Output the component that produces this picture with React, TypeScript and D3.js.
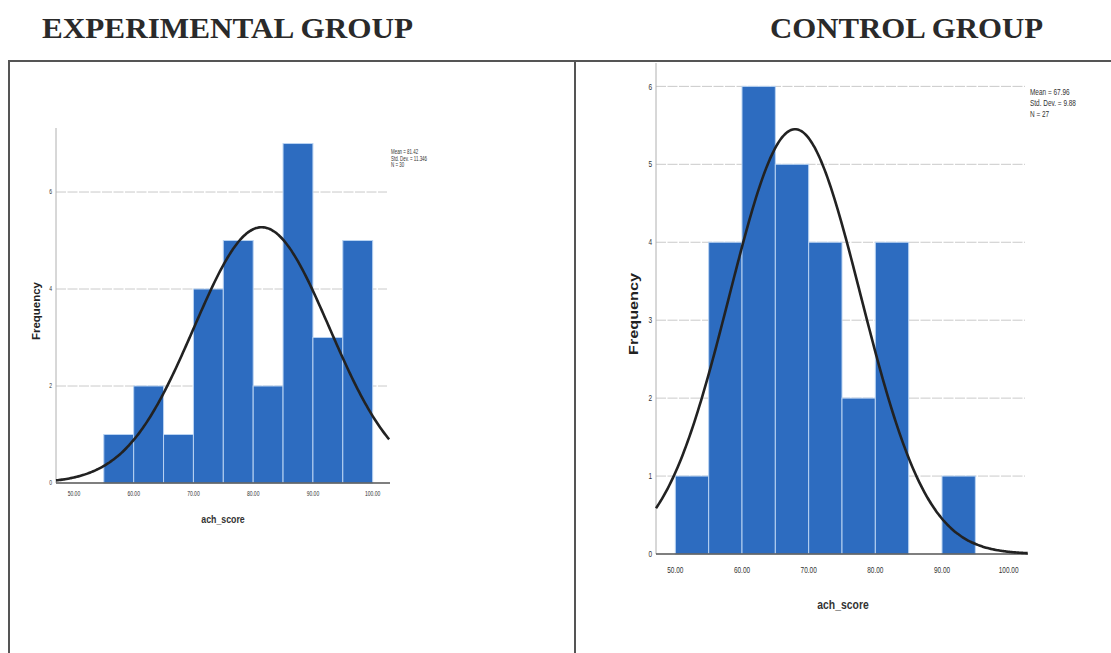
import React from 'react';
import * as d3 from 'd3';

// histogram bins (lower edge of each 5-point bin) and frequencies
const expBinStarts = [55, 60, 65, 70, 75, 80, 85, 90, 95];
const expCounts = [1, 2, 1, 4, 5, 2, 7, 3, 5];
const ctrlBinStarts = [50, 55, 60, 65, 70, 75, 80, 85, 90];
const ctrlCounts = [1, 4, 6, 5, 4, 2, 4, 0, 1];
const binWidth = 5;

const xTickValues = [50, 60, 70, 80, 90, 100];
const expYTicks = [0, 2, 4, 6];
const ctrlYTicks = [0, 1, 2, 3, 4, 5, 6];

const expStats = [81.42, 11.346, 30];
const ctrlStats = [67.96, 9.88, 27];
const expLegend = ['Mean = 81.42', 'Std. Dev. = 11.346', 'N = 30'];
const ctrlLegend = ['Mean = 67.96', 'Std. Dev. = 9.88', 'N = 27'];

const sans = "'Liberation Sans', Arial, sans-serif";

// text squeezed horizontally, like the condensed SPSS labels
const Narrow = ({ x, y, sx = 0.72, anchor = 'start', size, bold = false, children }: any) => (
  <g transform={`translate(${x},${y}) scale(${sx},1)`}>
    <text
      textAnchor={anchor}
      fontSize={size}
      fontWeight={bold ? 'bold' : 'normal'}
      fontFamily={sans}
      fill="#333"
    >
      {children}
    </text>
  </g>
);

type PanelProps = {
  starts: number[];
  counts: number[];
  stats: number[];
  legend: string[];
  yTicks: number[];
  layout: any;
};

const Histogram = ({ starts, counts, stats, legend, yTicks, layout }: PanelProps) => {
  const L = layout;
  const x = d3.scaleLinear().domain(L.xDomain).range([L.left, L.right]);
  const y = d3.scaleLinear().domain([0, L.yMax]).range([L.bottom, L.top]);
  const [mean, sd, n] = stats;

  // fitted normal curve scaled to counts per bin
  const pdf = (v: number) =>
    (n * binWidth) / (sd * Math.sqrt(2 * Math.PI)) * Math.exp(-0.5 * ((v - mean) / sd) ** 2);
  const curvePts = d3.range(L.xDomain[0], L.xDomain[1] + 0.01, 0.25).map((v) => [v, pdf(v)]);
  const line = d3
    .line<number[]>()
    .x((d) => x(d[0]))
    .y((d) => y(d[1]))
    .curve(d3.curveBasis);

  return (
    <g>
      {/* gridlines */}
      {yTicks
        .filter((t) => t > 0)
        .map((t) => (
          <line
            key={'g' + t}
            x1={L.left}
            x2={L.gridRight}
            y1={y(t)}
            y2={y(t)}
            stroke="#bdbdbd"
            strokeWidth={0.8}
            strokeDasharray="10,1.5"
          />
        ))}
      {/* bars */}
      {starts.map((s, i) =>
        counts[i] > 0 ? (
          <rect
            key={'b' + s}
            x={x(s)}
            y={y(counts[i])}
            width={x(s + binWidth) - x(s)}
            height={y(0) - y(counts[i])}
            fill="#2d6cc0"
            stroke="#b9d3f2"
            strokeWidth={1}
          />
        ) : null
      )}
      {/* axes */}
      <line x1={L.left} x2={L.left} y1={L.top} y2={L.bottom} stroke="#b0b0b0" strokeWidth={1} />
      <line x1={L.left} x2={L.right} y1={L.bottom} y2={L.bottom} stroke="#555" strokeWidth={1.5} />
      {yTicks.map((t) => (
        <Narrow key={'y' + t} x={L.left - 4} y={y(t) + L.tickSize * 0.35} anchor="end" size={L.tickSize}>
          {t}
        </Narrow>
      ))}
      {xTickValues.map((t) => (
        <Narrow key={'x' + t} x={x(t)} y={L.bottom + L.xTickOffset} anchor="middle" size={L.tickSize}>
          {t.toFixed(2)}
        </Narrow>
      ))}
      {/* normal curve */}
      <path d={line(curvePts) || ''} fill="none" stroke="#222" strokeWidth={2.6} />
      {/* axis titles */}
      <Narrow x={L.xLabelX} y={L.xLabelY} anchor="middle" size={L.labelSize} bold sx={0.8}>
        ach_score
      </Narrow>
      <text
        transform={`translate(${L.yLabelX},${L.yLabelY}) rotate(-90)`}
        textAnchor="middle"
        fontSize={L.yLabelSize}
        fontWeight="bold"
        fontFamily={sans}
        textLength={L.yLabelLen}
        lengthAdjust="spacingAndGlyphs"
        fill="#222"
      >
        Frequency
      </text>
      {/* stats legend */}
      {legend.map((s, i) => (
        <Narrow key={'l' + i} x={L.legendX} y={L.legendY + i * L.legendStep} size={L.legendSize} sx={0.68}>
          {s}
        </Narrow>
      ))}
    </g>
  );
};

const expLayout = {
  xDomain: [47, 102.9],
  yMax: 7.32,
  left: 56,
  right: 390,
  gridRight: 387,
  top: 128,
  bottom: 483,
  tickSize: 7,
  xTickOffset: 13,
  labelSize: 11,
  xLabelX: 223,
  xLabelY: 523,
  yLabelX: 40,
  yLabelY: 311,
  yLabelSize: 10,
  yLabelLen: 58,
  legendX: 391,
  legendY: 154,
  legendStep: 6.5,
  legendSize: 6.5,
};

const ctrlLayout = {
  xDomain: [47.1, 102.9],
  yMax: 6.3,
  left: 656,
  right: 1028,
  gridRight: 1025,
  top: 63,
  bottom: 554,
  tickSize: 9,
  xTickOffset: 19,
  labelSize: 13,
  xLabelX: 843,
  xLabelY: 609,
  yLabelX: 638,
  yLabelY: 314,
  yLabelSize: 12,
  yLabelLen: 82,
  legendX: 1030,
  legendY: 95,
  legendStep: 11,
  legendSize: 9.5,
};

const App = () => {
  return (
    <svg
      width={1111}
      height={653}
      style={{ position: 'absolute', left: 0, top: 0, background: '#fff' }}
    >
      <text
        x={42}
        y={38}
        fontSize={30}
        fontWeight="bold"
        fontFamily="'Liberation Serif', 'Times New Roman', serif"
        textLength={371}
        lengthAdjust="spacingAndGlyphs"
        fill="#2a2a2a"
      >
        EXPERIMENTAL GROUP
      </text>
      <text
        x={770}
        y={38}
        fontSize={30}
        fontWeight="bold"
        fontFamily="'Liberation Serif', 'Times New Roman', serif"
        textLength={273}
        lengthAdjust="spacingAndGlyphs"
        fill="#2a2a2a"
      >
        CONTROL GROUP
      </text>
      {/* panel frame */}
      <line x1={9} x2={1111} y1={61} y2={61} stroke="#555" strokeWidth={2} />
      <line x1={9} x2={9} y1={60} y2={653} stroke="#555" strokeWidth={2} />
      <line x1={575} x2={575} y1={60} y2={653} stroke="#555" strokeWidth={2} />

      <Histogram
        starts={expBinStarts}
        counts={expCounts}
        stats={expStats}
        legend={expLegend}
        yTicks={expYTicks}
        layout={expLayout}
      />
      <Histogram
        starts={ctrlBinStarts}
        counts={ctrlCounts}
        stats={ctrlStats}
        legend={ctrlLegend}
        yTicks={ctrlYTicks}
        layout={ctrlLayout}
      />
    </svg>
  );
};

export default App;
